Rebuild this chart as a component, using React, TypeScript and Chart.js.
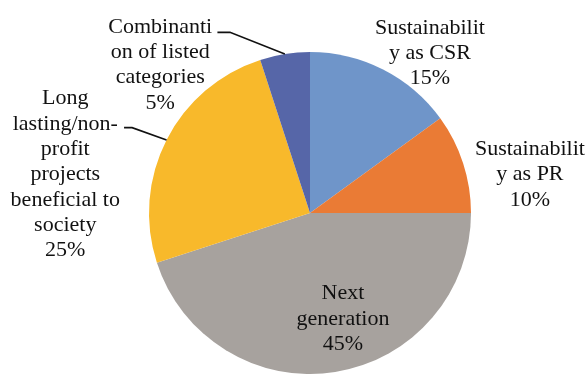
import React, { useEffect, useRef } from "react";
import { Chart, registerables } from "chart.js";

Chart.register(...registerables);

const categories = [
  "Sustainability as CSR",
  "Sustainability as PR",
  "Next generation",
  "Long lasting/non-profit projects beneficial to society",
  "Combinantion of listed categories",
];
const values = [15, 10, 45, 25, 5];
const colors = ["#6F95C9", "#EA7B35", "#A7A29E", "#F8B92B", "#5666A8"];
const labelLines = [
  ["Sustainabilit", "y as CSR", "15%"],
  ["Sustainabilit", "y as PR", "10%"],
  ["Next", "generation", "45%"],
  ["Long", "lasting/non-", "profit", "projects", "beneficial to", "society", "25%"],
  ["Combinanti", "on of listed", "categories", "5%"],
];

// label placement (fractions of radius from pie centre) and optional leader elbows
const labelPos = [
  { dx: 0.745, dy: -1.15 },
  { dx: 1.366, dy: -0.395 },
  { dx: 0.205, dy: 0.5 },
  { dx: -1.52, dy: -0.71, leader: { sx: -1.155, sy: -0.53, ex: -1.105 } },
  { dx: -0.93, dy: -1.155, leader: { sx: -0.575, sy: -1.122, ex: -0.497 } },
];

const labelPlugin = {
  id: "pieLabels",
  afterDraw(chart: any) {
    const ctx = chart.ctx;
    const meta = chart.getDatasetMeta(0);
    ctx.save();
    ctx.font = '22px "Liberation Serif", "Times New Roman", serif';
    ctx.fillStyle = "#111";
    ctx.textAlign = "center";
    ctx.textBaseline = "middle";
    const lh = 25.3;
    meta.data.forEach((arc: any, i: number) => {
      const { x, y, outerRadius: r, startAngle, endAngle } = arc.getProps(
        ["x", "y", "outerRadius", "startAngle", "endAngle"],
        true
      );
      const p = labelPos[i];
      const cx = x + p.dx * r;
      const cy = y + p.dy * r;
      labelLines[i].forEach((t, k) => ctx.fillText(t, cx, cy + k * lh));
      if (p.leader) {
        const mid = (startAngle + endAngle) / 2;
        const px = x + Math.cos(mid) * r;
        const py = y + Math.sin(mid) * r;
        ctx.beginPath();
        ctx.strokeStyle = "#111";
        ctx.lineWidth = 1.6;
        ctx.moveTo(x + p.leader.sx * r, y + p.leader.sy * r);
        ctx.lineTo(x + p.leader.ex * r, y + p.leader.sy * r);
        ctx.lineTo(px, py);
        ctx.stroke();
      }
    });
    ctx.restore();
  },
};

export default function App() {
  const ref = useRef<HTMLCanvasElement>(null);
  useEffect(() => {
    if (!ref.current) return;
    const chart = new Chart(ref.current, {
      type: "pie",
      data: {
        labels: categories,
        datasets: [
          {
            data: values,
            backgroundColor: colors,
            borderWidth: 0,
          },
        ],
      },
      options: {
        responsive: false,
        animation: false,
        layout: { padding: { top: 52, bottom: 0, left: 34, right: 0 } },
        plugins: {
          legend: { display: false },
          tooltip: { enabled: false },
        },
      },
      plugins: [labelPlugin],
    });
    return () => chart.destroy();
  }, []);
  return (
    <div
      style={{
        position: "fixed",
        left: 0,
        top: 0,
        width: 586,
        height: 374,
        background: "#fff",
      }}
    >
      <canvas ref={ref} width={586} height={374} />
    </div>
  );
}
